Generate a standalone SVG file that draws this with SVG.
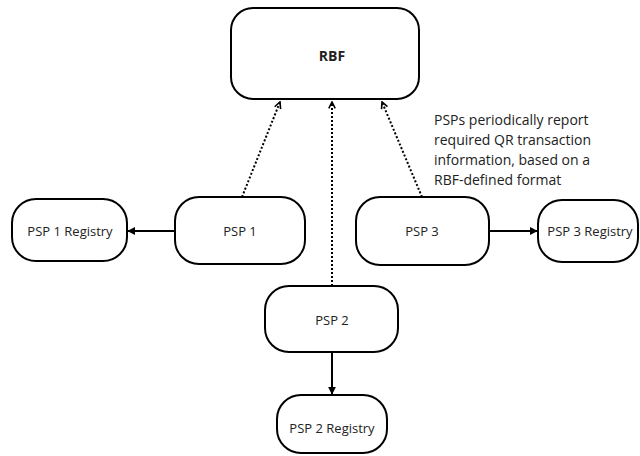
<svg xmlns="http://www.w3.org/2000/svg" width="640" height="456" viewBox="0 0 640 456">
<style>
.box{fill:#fff;stroke:#000;stroke-width:2}
.lbl{font-family:"Open Sans","Noto Sans",sans-serif;font-size:13px;fill:#222;text-anchor:middle;dominant-baseline:central}
.note{font-family:"Open Sans","Noto Sans",sans-serif;font-size:14px;fill:#222}
.solid{stroke:#000;stroke-width:2;fill:none}
.dot{stroke:#000;stroke-width:2;stroke-dasharray:2 2;fill:none}
</style>
<defs>
<marker id="tri" viewBox="0 0 10 10" refX="9" refY="5" markerWidth="4" markerHeight="4" orient="auto"><path d="M0,0L10,5L0,10z" fill="#000"/></marker>
<marker id="chev" viewBox="0 0 10 10" refX="9" refY="5" markerWidth="4" markerHeight="4" orient="auto"><path d="M1,1L9,5L1,9" fill="none" stroke="#000" stroke-width="2"/></marker>
</defs>
<g id="connectors">
<line class="dot" x1="242" y1="197" x2="280" y2="102" marker-end="url(#chev)"/>
<line class="dot" x1="332" y1="286" x2="332" y2="102" marker-end="url(#chev)"/>
<line class="dot" x1="422" y1="197" x2="382" y2="102" marker-end="url(#chev)"/>
<line class="solid" x1="175" y1="231" x2="128" y2="231" marker-end="url(#tri)"/>
<line class="solid" x1="489" y1="231" x2="537" y2="231" marker-end="url(#tri)"/>
<line class="solid" x1="332" y1="352" x2="332" y2="394" marker-end="url(#tri)"/>
</g>
<g id="rbf"><rect class="box" x="231" y="8" width="188" height="91" rx="22"/><text class="lbl" x="332" y="55" style="font-weight:bold;font-size:14px">RBF</text></g>
<g id="psp1"><rect class="box" x="175" y="197" width="130" height="67" rx="24"/><text class="lbl" x="240" y="231">PSP 1</text></g>
<g id="psp1reg"><rect class="box" x="12" y="199" width="115" height="62" rx="24"/><text class="lbl" x="70" y="231">PSP 1 Registry</text></g>
<g id="psp3"><rect class="box" x="356" y="197" width="133" height="68" rx="24"/><text class="lbl" x="422" y="231">PSP 3</text></g>
<g id="psp3reg"><rect class="box" x="538" y="200" width="100" height="62" rx="24"/><text class="lbl" x="590" y="231">PSP 3 Registry</text></g>
<g id="psp2"><rect class="box" x="265" y="286" width="133" height="66" rx="24"/><text class="lbl" x="332" y="320">PSP 2</text></g>
<g id="psp2reg"><rect class="box" x="277" y="395" width="110" height="58" rx="24"/><text class="lbl" x="332" y="428">PSP 2 Registry</text></g>
<g id="note">
<text class="note" x="434" y="125">PSPs periodically report</text>
<text class="note" x="434" y="145">required QR transaction</text>
<text class="note" x="434" y="165">information, based on a</text>
<text class="note" x="434" y="185">RBF-defined format</text>
</g>
</svg>
